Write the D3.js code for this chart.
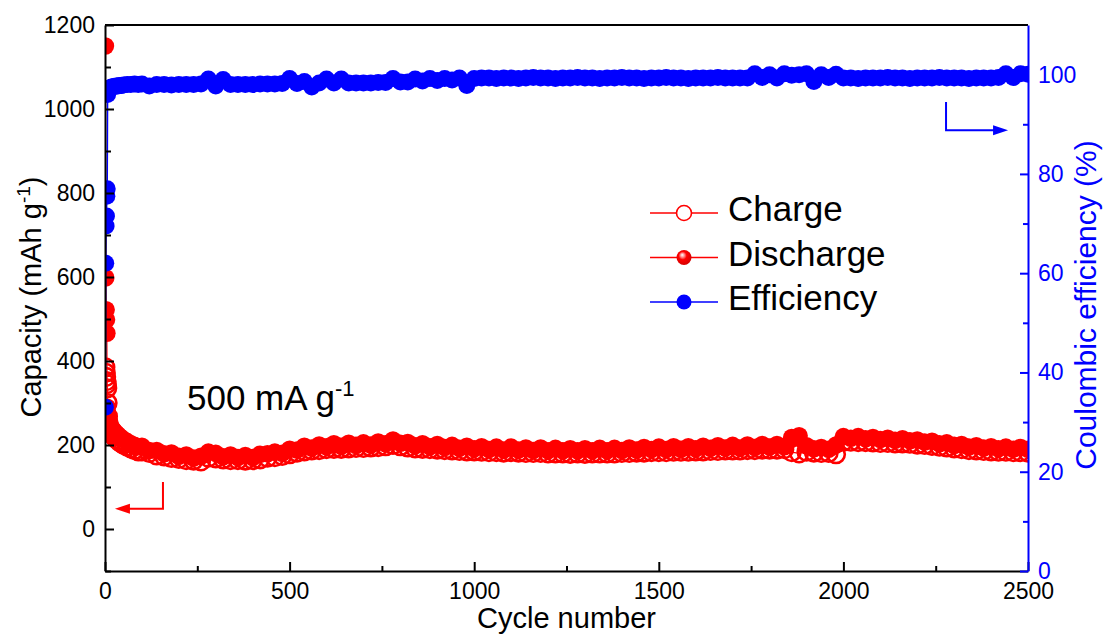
<!DOCTYPE html>
<html>
<head>
<meta charset="utf-8">
<script src="https://cdn.jsdelivr.net/npm/d3@7/dist/d3.min.js"></script>
<style>
body { margin: 0; background: #fff; }
svg { font-family: "Liberation Sans", Arial, sans-serif; }
</style>
</head>
<body>
<svg width="1107" height="639"></svg>
<script>
var cycles = [1, 2, 3, 4, 5, 6, 7, 8, 9, 10, 12, 14, 16, 18, 20, 25, 30, 35, 40, 45, 50, 60, 70, 80, 90,
    100, 120, 140, 160, 180, 200, 220, 240, 260, 280,
    300, 320, 340, 360, 380, 400, 420, 440, 460, 480,
    500, 520, 540, 560, 580, 600, 620, 640, 660, 680,
    700, 720, 740, 760, 780, 800, 820, 840, 860, 880,
    900, 920, 940, 960, 980, 1000, 1020, 1040, 1060, 1080,
    1100, 1120, 1140, 1160, 1180, 1200, 1220, 1240, 1260, 1280,
    1300, 1320, 1340, 1360, 1380, 1400, 1420, 1440, 1460, 1480,
    1500, 1520, 1540, 1560, 1580, 1600, 1620, 1640, 1660, 1680,
    1700, 1720, 1740, 1760, 1780, 1800, 1820, 1840, 1860, 1880,
    1900, 1920, 1940, 1960, 1980, 2000, 2020, 2040, 2060, 2080,
    2100, 2120, 2140, 2160, 2180, 2200, 2220, 2240, 2260, 2280,
    2300, 2320, 2340, 2360, 2380, 2400, 2420, 2440, 2460, 2480,
    2500];

// capacity, mAh/g
var charge = [385, 372, 362, 352, 345, 335, 300, 268, 255, 248, 240, 236, 232, 229, 226, 220, 215, 211, 207, 204, 201, 196, 192, 188, 185,
    185, 181, 175, 173, 169, 167, 164, 163, 161, 170,
    168, 166, 164, 164, 163, 164, 166, 170, 171, 174,
    178, 182, 185, 187, 188, 190, 191, 191, 192, 193,
    193, 194, 195, 197, 200, 197, 194, 192, 191, 190,
    189, 188, 187, 186, 185, 185, 184, 183, 183, 182,
    183, 182, 181, 181, 181, 180, 180, 180, 179, 180,
    179, 180, 180, 180, 180, 181, 181, 182, 182, 183,
    183, 183, 184, 184, 184, 185, 185, 186, 186, 187,
    187, 187, 188, 188, 189, 189, 189, 190, 183, 180,
    184, 182, 181, 181, 178, 208, 208, 207, 207, 206,
    205, 205, 204, 204, 203, 201, 200, 198, 196, 194,
    192, 190, 188, 187, 186, 185, 184, 184, 183, 183,
    182];

var discharge = [1150, 598, 522, 498, 466, 290, 275, 262, 256, 252, 248, 245, 242, 240, 238, 233, 228, 224, 220, 216, 213, 208, 203, 199, 196,
    197, 187, 187, 179, 181, 173, 176, 169, 173, 183,
    180, 172, 176, 170, 175, 170, 178, 179, 183, 180,
    190, 188, 197, 193, 200, 196, 203, 197, 204, 199,
    205, 200, 207, 203, 212, 204, 206, 198, 203, 196,
    201, 194, 199, 192, 197, 191, 196, 189, 195, 188,
    195, 188, 193, 187, 193, 186, 192, 186, 191, 186,
    191, 186, 192, 186, 192, 187, 193, 188, 194, 189,
    195, 189, 196, 190, 196, 191, 197, 192, 198, 193,
    199, 193, 200, 194, 201, 195, 201, 196, 218, 222,
    198, 191, 194, 190, 200, 220, 216, 220, 215, 218,
    213, 216, 211, 215, 210, 212, 207, 209, 203, 205,
    199, 201, 195, 198, 193, 196, 191, 195, 190, 194,
    190];

// coulombic efficiency, %
var efficiency = [33, 62, 69.5, 71.5, 75.5, 77, 96, 96.5, 96.8, 97.0, 97.2, 97.3, 97.4, 97.5, 97.5, 97.6, 97.7, 97.7, 97.8, 97.8, 97.9, 98.0, 98.0, 98.1, 98.0,
    98.1, 97.7, 98.0, 98.0, 97.9, 98.0, 98.0, 98.0, 98.1, 99.1,
    97.7, 99.0, 98.0, 98.0, 98.0, 98.0, 98.1, 98.1, 98.1, 98.2,
    99.2, 98.2, 98.6, 97.5, 98.3, 99.1, 98.3, 99.1, 98.3, 98.3,
    98.3, 98.3, 98.4, 98.4, 99.2, 98.5, 98.5, 99.1, 98.7, 99.2,
    98.8, 99.2, 98.9, 99.3, 97.8, 99.2, 99.3, 99.3, 99.2, 99.3,
    99.3, 99.2, 99.3, 99.4, 99.3, 99.3, 99.2, 99.3, 99.3, 99.4,
    99.3, 99.3, 99.2, 99.3, 99.3, 99.4, 99.3, 99.3, 99.2, 99.3,
    99.3, 99.4, 99.3, 99.3, 99.2, 99.3, 99.3, 99.3, 99.4, 99.3,
    99.3, 99.3, 99.3, 100.2, 99.4, 100.0, 99.3, 100.2, 99.9, 100.0,
    100.2, 98.6, 100.0, 99.4, 100.1, 99.3, 99.3, 99.2, 99.3, 99.3,
    99.3, 99.4, 99.3, 99.3, 99.2, 99.3, 99.3, 99.3, 99.4, 99.3,
    99.3, 99.3, 99.2, 99.3, 99.3, 99.3, 99.4, 100.2, 99.4, 100.2,
    100.1];

var capTicks = [0, 200, 400, 600, 800, 1000, 1200];
var capMinor = [-100, 100, 300, 500, 700, 900, 1100];
var effTicks = [0, 20, 40, 60, 80, 100];
var effMinor = [10, 30, 50, 70, 90];
var cycleTicks = [0, 500, 1000, 1500, 2000, 2500];
var cycleMinor = [250, 750, 1250, 1750, 2250];
var legendNames = ["Charge", "Discharge", "Efficiency"];

function makeChart() {
    var left = 105, right = 1028, top = 25, bottom = 571;
    var red = "#ff0000", blue = "#0000ff";

    var scX = d3.scaleLinear().domain([0, 2500]).range([left, right]);
    var scY1 = d3.scaleLinear().domain([-100, 1200]).range([bottom, top]);
    var scY2 = d3.scaleLinear().domain([0, 110]).range([bottom, top]);

    var data = cycles.map((c, i) => ({ c: c, ch: charge[i], dis: discharge[i], eff: efficiency[i] }));

    var svg = d3.select("svg");
    var defs = svg.append("defs");

    defs.append("clipPath").attr("id", "plot")
        .append("rect").attr("x", left).attr("y", top)
        .attr("width", right - left).attr("height", bottom - top);

    // shiny ball for the discharge symbol in the legend
    var grad = defs.append("radialGradient").attr("id", "ball")
        .attr("cx", 0.45).attr("cy", 0.45).attr("r", 0.6)
        .attr("fx", 0.38).attr("fy", 0.32);
    grad.append("stop").attr("offset", "0%").attr("stop-color", "#ffffff");
    grad.append("stop").attr("offset", "22%").attr("stop-color", "#ff9090");
    grad.append("stop").attr("offset", "45%").attr("stop-color", "#ff0000");
    grad.append("stop").attr("offset", "100%").attr("stop-color", "#d00000");

    var g = svg.append("g").attr("clip-path", "url(#plot)");

    var lineCh = d3.line().x(d => scX(d.c)).y(d => scY1(d.ch));
    var lineDis = d3.line().x(d => scX(d.c)).y(d => scY1(d.dis));
    var lineEff = d3.line().x(d => scX(d.c)).y(d => scY2(d.eff));

    g.append("path").attr("d", lineCh(data))
        .attr("fill", "none").attr("stroke", red).attr("stroke-width", 1.2);
    g.append("path").attr("d", lineDis(data))
        .attr("fill", "none").attr("stroke", red).attr("stroke-width", 1.2);

    // charge: open circles
    g.append("g").selectAll("circle")
        .data(data).enter().append("circle")
        .attr("cx", d => scX(d.c)).attr("cy", d => scY1(d.ch))
        .attr("r", 8.8).attr("fill", "none")
        .attr("stroke", red).attr("stroke-width", 2.6);

    // discharge: filled balls, the dense band hides the highlight
    g.append("g").selectAll("circle")
        .data(data).enter().append("circle")
        .attr("cx", d => scX(d.c)).attr("cy", d => scY1(d.dis))
        .attr("r", 8.8).attr("fill", red);

    g.append("path").attr("d", lineEff(data))
        .attr("fill", "none").attr("stroke", blue).attr("stroke-width", 1.5);
    g.append("g").selectAll("circle")
        .data(data).enter().append("circle")
        .attr("cx", d => scX(d.c)).attr("cy", d => scY2(d.eff))
        .attr("r", 8.5).attr("fill", blue);

    // axes, ticks pointing inward
    function styleAxis(sel, color, size) {
        sel.attr("font-family", null).attr("font-size", size)
            .attr("color", color);
        sel.select(".domain").attr("stroke-width", 2);
        sel.selectAll(".tick line").attr("stroke-width", 2);
    }
    var fmt = d3.format("d");

    svg.append("g").attr("transform", "translate(" + left + ",0)")
        .call(d3.axisLeft(scY1).tickValues(capTicks).tickFormat(fmt).tickSize(-9).tickSizeOuter(0).tickPadding(10))
        .call(styleAxis, "#000", 23);
    svg.append("g").attr("transform", "translate(" + left + ",0)")
        .call(d3.axisLeft(scY1).tickValues(capMinor).tickSize(-6).tickFormat(""))
        .call(s => s.select(".domain").remove())
        .call(styleAxis, "#000", 23);

    svg.append("g").attr("transform", "translate(0," + bottom + ")")
        .call(d3.axisBottom(scX).tickValues(cycleTicks).tickFormat(fmt).tickSize(-9).tickSizeOuter(0).tickPadding(12))
        .call(styleAxis, "#000", 23);
    svg.append("g").attr("transform", "translate(0," + bottom + ")")
        .call(d3.axisBottom(scX).tickValues(cycleMinor).tickSize(-5).tickFormat(""))
        .call(s => s.select(".domain").remove())
        .call(styleAxis, "#000", 23);

    svg.append("line").attr("x1", left).attr("x2", right)
        .attr("y1", top).attr("y2", top)
        .attr("stroke", "#000").attr("stroke-width", 2);

    svg.append("g").attr("transform", "translate(" + right + ",0)")
        .call(d3.axisRight(scY2).tickValues(effTicks).tickFormat(fmt).tickSize(-8).tickSizeOuter(0).tickPadding(10))
        .call(styleAxis, blue, 23);
    svg.append("g").attr("transform", "translate(" + right + ",0)")
        .call(d3.axisRight(scY2).tickValues(effMinor).tickSize(-5).tickFormat(""))
        .call(s => s.select(".domain").remove())
        .call(styleAxis, blue, 23);

    // axis titles
    svg.append("text").attr("x", (left + right) / 2).attr("y", 628)
        .attr("text-anchor", "middle").attr("font-size", 29)
        .text("Cycle number");

    var yt = svg.append("text")
        .attr("transform", "translate(41," + 297 + ") rotate(-90)")
        .attr("text-anchor", "middle").attr("font-size", 29);
    yt.append("tspan").text("Capacity (mAh g");
    yt.append("tspan").attr("dy", -11).attr("font-size", 19).text("-1");
    yt.append("tspan").attr("dy", 11).text(")");

    svg.append("text")
        .attr("transform", "translate(1096," + 305 + ") rotate(-90)")
        .attr("text-anchor", "middle").attr("font-size", 30).attr("fill", blue)
        .text("Coulombic efficiency (%)");

    // current density note
    var note = svg.append("text").attr("x", 187).attr("y", 410).attr("font-size", 35);
    note.append("tspan").text("500 mA g");
    note.append("tspan").attr("dy", -14).attr("font-size", 22).text("-1");

    // arrows pointing at the axes
    var arrow = d3.line();
    svg.append("path")
        .attr("d", arrow([[scX(157), scY1(112)], [scX(157), scY1(48)], [scX(40), scY1(48)]]))
        .attr("fill", "none").attr("stroke", red).attr("stroke-width", 2);
    svg.append("path")
        .attr("d", arrow([[scX(27), scY1(48)], [scX(27) + 15, scY1(48) - 5], [scX(27) + 15, scY1(48) + 5]]) + "Z")
        .attr("fill", red);

    svg.append("path")
        .attr("d", arrow([[scX(2278), scY2(94.5)], [scX(2278), scY2(88.8)], [scX(2410), scY2(88.8)]]))
        .attr("fill", "none").attr("stroke", blue).attr("stroke-width", 2);
    svg.append("path")
        .attr("d", arrow([[scX(2446), scY2(88.8)], [scX(2446) - 15, scY2(88.8) - 5], [scX(2446) - 15, scY2(88.8) + 5]]) + "Z")
        .attr("fill", blue);

    // legend
    var leg = svg.append("g").attr("transform", "translate(650,213)")
        .selectAll("g").data(legendNames).enter().append("g")
        .attr("transform", (d, i) => "translate(0," + i * 44.5 + ")");
    leg.append("line").attr("x1", 0).attr("x2", 68)
        .attr("stroke", (d, i) => i < 2 ? red : blue).attr("stroke-width", 1.6);
    leg.append("circle").attr("cx", 34).attr("r", 7.5)
        .attr("fill", (d, i) => i == 0 ? "#fff" : (i == 1 ? "url(#ball)" : blue))
        .attr("stroke", (d, i) => i == 0 ? red : "none").attr("stroke-width", 1.6);
    leg.append("text").attr("x", 78).attr("y", 8).attr("font-size", 35)
        .text(d => d);
}

makeChart();
</script>
</body>
</html>
